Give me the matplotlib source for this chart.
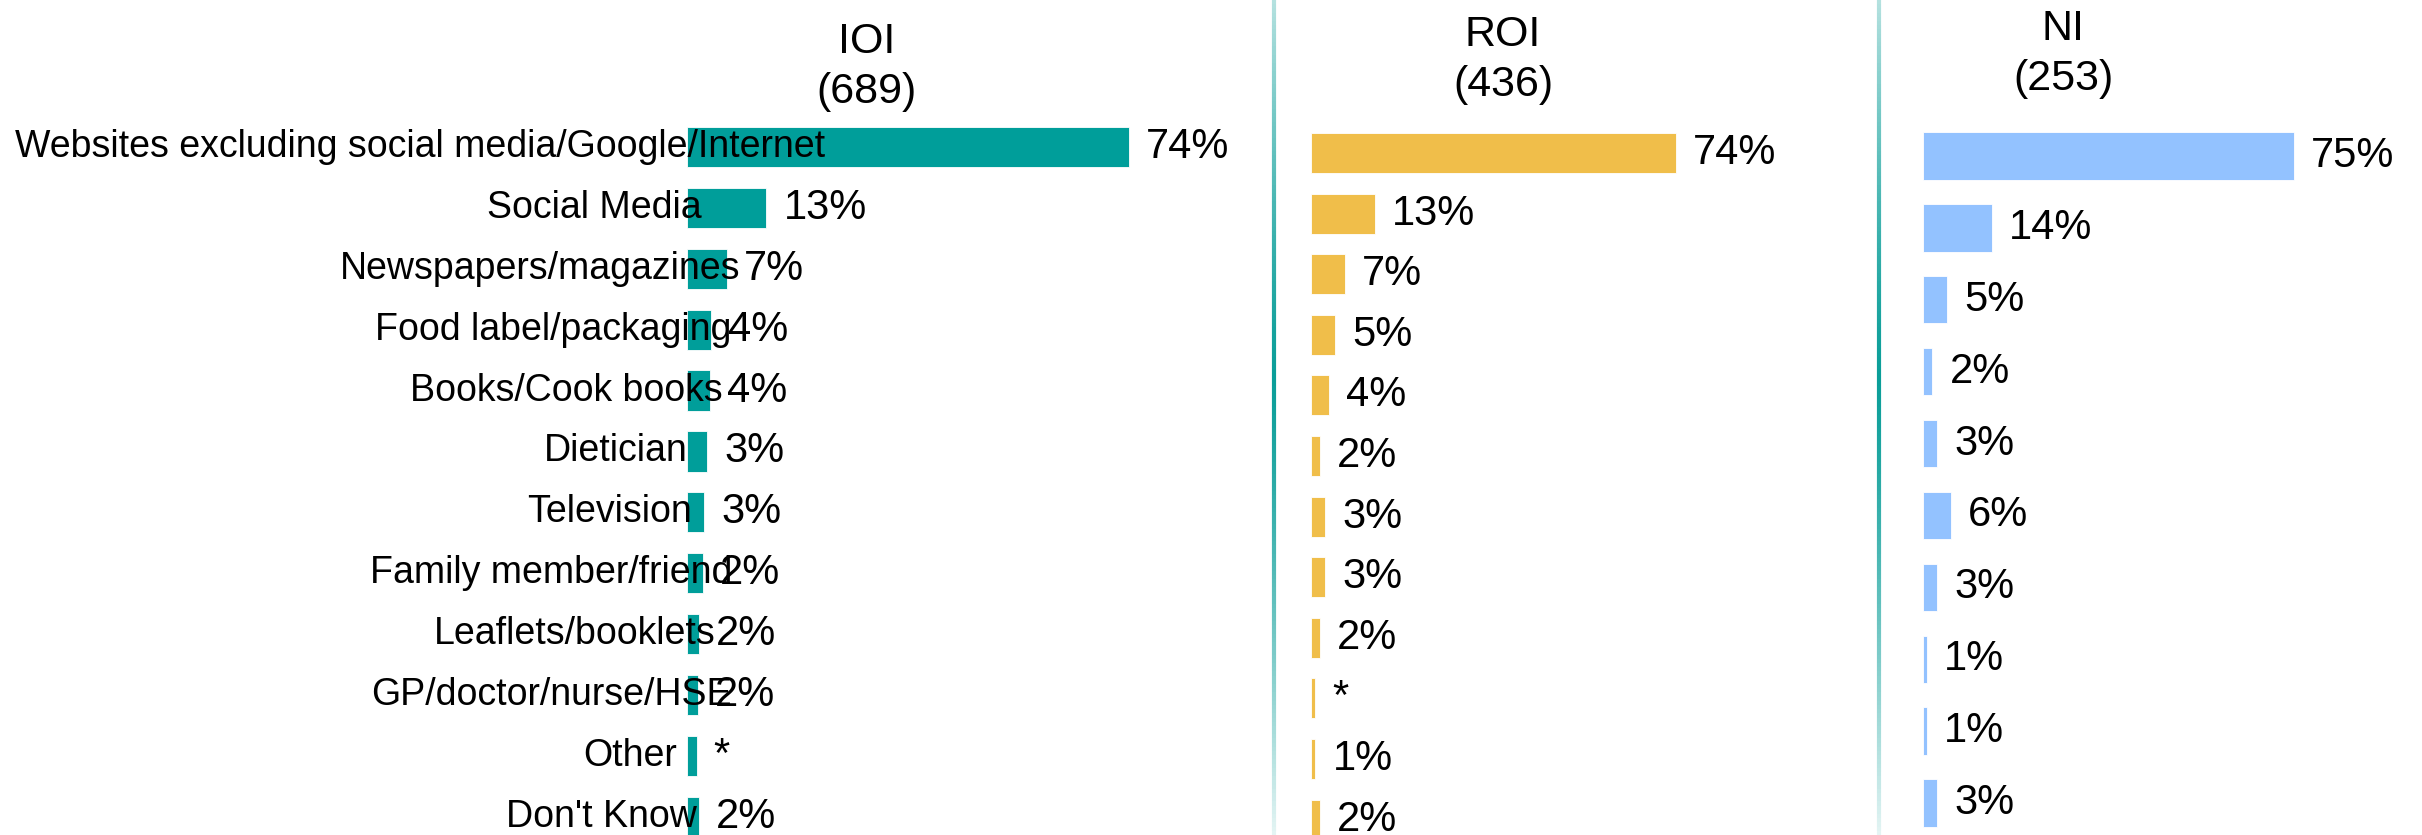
import numpy as np
import matplotlib
matplotlib.use("Agg")
import matplotlib.pyplot as plt
from matplotlib.collections import LineCollection
from matplotlib.transforms import offset_copy

plt.rcParams['font.family'] = ['Liberation Sans', 'DejaVu Sans']

# --- data -------------------------------------------------------------
categories = [
    "Websites excluding social media/Google/Internet",
    "Social Media",
    "Newspapers/magazines",
    "Food label/packaging",
    "Books/Cook books",
    "Dietician",
    "Television",
    "Family member/friend",
    "Leaflets/booklets",
    "GP/doctor/nurse/HSE",
    "Other",
    "Don't Know",
]

ioi_values = [74, 13.3, 6.7, 4.1, 3.9, 3.4, 2.9, 2.6, 2.0, 1.8, 1.6, 2.0]
ioi_labels = ["74%", "13%", "7%", "4%", "4%", "3%", "3%", "2%", "2%", "2%", "*", "2%"]

roi_values = [74, 12.9, 6.8, 4.9, 3.7, 1.9, 2.9, 2.9, 1.9, 0.8, 0.9, 1.9]
roi_labels = ["74%", "13%", "7%", "5%", "4%", "2%", "3%", "3%", "2%", "*", "1%", "2%"]

# only the first ten NI rows are visible in the picture
ni_values = [75, 14, 4.9, 1.9, 2.9, 5.7, 2.9, 0.8, 0.8, 2.9]
ni_labels = ["75%", "14%", "5%", "2%", "3%", "6%", "3%", "1%", "1%", "3%"]

panel_titles = ["IOI\n(689)", "ROI\n(436)", "NI\n(253)"]
panel_colors = ["#009E9A", "#F0BE4A", "#93C2FF"]

# --- figure -----------------------------------------------------------
W, H = 2422, 835
DPI = 100
fig = plt.figure(figsize=(W / DPI, H / DPI), dpi=DPI)


def px_axes(left, top, width, height):
    """add an axes given in pixel units from the top-left corner"""
    return fig.add_axes([left / W, 1 - (top + height) / H, width / W, height / H])


# background axes for the gradient divider lines
bg = fig.add_axes([0, 0, 1, 1])
bg.set_xlim(0, W)
bg.set_ylim(H, 0)
bg.axis("off")
for xline in [1274, 1879]:
    ys = np.linspace(0, H, 200)
    segs = [[(xline, ys[k]), (xline, ys[k + 1])] for k in range(len(ys) - 1)]
    t = ys[:-1] / H
    alpha = np.clip(1 - (np.abs(t - 0.45) / 0.55) ** 1.3 * 0.9, 0.08, 1)
    cols = [(0.04, 0.62, 0.60, a) for a in alpha]
    bg.add_collection(LineCollection(segs, colors=cols, linewidths=3))

# panel geometry: (bar left px, px per %, first row top px, row pitch px)
geom = [
    (687, 5.97, 116.5, 60.9),
    (1311, 4.93, 122.7, 60.6),
    (1923, 4.94, 120.0, 71.9),
]
values = [ioi_values, roi_values, ni_values]
labels = [ioi_labels, roi_labels, ni_labels]
n_rows = len(categories)

axes = []
for (x0, ppp, top, pitch), vals, labs, color in zip(geom, values, labels, panel_colors):
    ax = px_axes(x0, top, ppp * 100, pitch * n_rows)
    y = np.arange(len(vals))
    ax.barh(y, vals, height=0.66, color=color, edgecolor="white", linewidth=0.6)
    ax.set_xlim(0, 100)
    ax.set_ylim(n_rows - 0.5, -0.5)
    ax.axis("off")
    for yi, v, lab in zip(y, vals, labs):
        ax.text(v, yi, lab, ha="left", va="center", fontsize=30,
                transform=offset_copy(ax.transData, fig=fig, x=17, y=0, units="dots"),
                clip_on=False)
    axes.append(ax)

# category labels on the first panel (laid out as in the original export)
ax = axes[0]
cat_texts = []
for i, cat in enumerate(categories):
    txt = ax.text(0, i, cat, ha="right", va="center", fontsize=27, clip_on=False)
    cat_texts.append(txt)
fig.canvas.draw()
renderer = fig.canvas.get_renderer()
for txt in cat_texts:
    w = txt.get_window_extent(renderer).width
    txt.set_transform(offset_copy(ax.transData, fig=fig, x=-29.5 + 0.207 * w,
                                  y=0, units="dots"))

# panel headers
for title, xc, yc in zip(panel_titles, [867, 1503, 2063], [67, 60, 54]):
    fig.text(xc / W, 1 - yc / H, title, ha="center", va="center",
             fontsize=31, linespacing=1.3)

fig.savefig("out.png", dpi=DPI)
